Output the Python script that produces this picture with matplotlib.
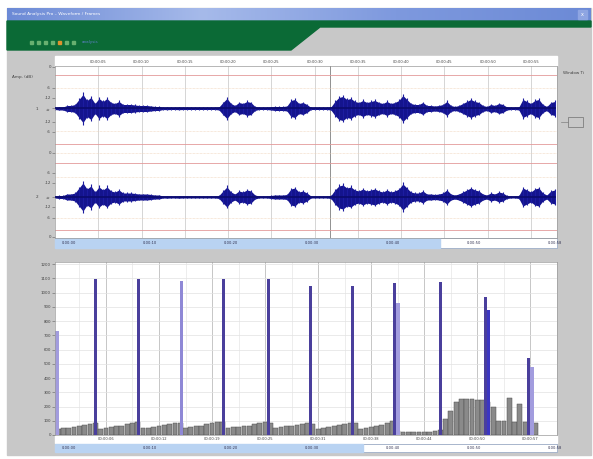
import matplotlib
matplotlib.use("Agg")
import matplotlib.pyplot as plt
import numpy as np
from matplotlib.patches import Rectangle, Polygon
from matplotlib.colors import LinearSegmentedColormap

# ---------------- data ----------------
# waveform envelope (half amplitude) sampled every wave_dt seconds
wave_dt = 0.462
wave_env = [1, 1.5, 1.5, 3, 3, 4, 9, 14, 8, 11, 5, 10, 7, 10, 6, 5, 7, 4, 4, 4,
            3.5, 3, 3, 3, 2.5, 2, 2, 1, 1.2, 1, 1, 1.2, 1, 1, 1, 1, 1, 1, 1, 1,
            1, 1.5, 6, 10, 5, 3, 6, 5, 7, 6, 2, 1, 1, 1, 1.5, 2, 2, 2, 2.5, 8,
            9, 5, 6, 4, 1, 1, 1, 1, 1, 1.5, 7, 11, 12, 9, 10, 7, 6, 8, 6, 7,
            8, 6, 5, 7, 5, 6, 8, 13, 9, 5, 4, 4, 6, 3, 3, 2.5, 3, 4, 7, 3,
            2, 3, 5, 7, 9, 7, 6, 3, 2, 4, 3, 5, 4, 1.5, 1, 1, 1.5, 9, 7, 5,
            8, 9, 4, 2, 6, 7]
wave_ticks_s = [5, 10, 15, 20, 25, 30, 35, 40, 45, 50, 55]
wave_tick_labels = ["00:00:05", "00:00:10", "00:00:15", "00:00:20", "00:00:25", "00:00:30",
                    "00:00:35", "00:00:40", "00:00:45", "00:00:50", "00:00:55"]
cursor_s = 31.8
amp_labels = ["0", "-6", "-12", "-\u221e", "-12", "-6", "0", "-6", "-12", "-\u221e", "-12", "-6", "0"]

# frame chart
frame_index = list(range(1, 92))
frame_energy = [45, 50, 50, 55, 60, 70, 80,
                85,
                45, 50, 55, 60, 65, 75, 85,
                90,
                50, 50, 55, 60, 70, 80, 85,
                85,
                50, 55, 60, 65, 75, 85, 90,
                90,
                50, 55, 55, 60, 65, 75, 85, 90,
                85,
                50, 55, 60, 65, 70, 80, 85,
                80,
                45, 50, 55, 60, 70, 80, 85,
                85,
                45, 50, 55, 60, 70, 85, 95,
                25, 20, 20, 20, 20, 20, 20, 25, 35,
                110, 170, 230, 250, 255, 250, 245, 245, 235, 200,
                95, 95, 260, 90, 215, 90, 90, 85]
spike_pos = [0.8, 8.0, 16.2, 24.2, 32.2, 40.6, 48.6, 56.4, 64.4, 73.1, 81.5, 89.7]
spike_peak = [0, 1095, 1095, 0, 1095, 1095, 1046, 1046, 1067, 1074, 969, 541]
level_pos = [0.75, 8.5, 16.7, 24.2, 32.7, 41.1, 49.1, 56.9, 64.9, 73.6, 81.9, 90.2]
spike_level = [730, 0, 0, 1085, 0, 0, 0, 0, 927, 0, 878, 477]
level_width = [0.9, 0.9, 0.9, 0.6, 0.9, 0.9, 0.9, 0.9, 0.9, 0.9, 0.8, 0.9]
spike_level_colors = ["#a29cde", "#a29cde", "#a29cde", "#8f88d6", "#a29cde", "#a29cde",
                      "#a29cde", "#a29cde", "#a29cde", "#a29cde", "#3b36c2", "#a29cde"]
frame_yticks = [0, 100, 200, 300, 400, 500, 600, 700, 800, 900, 1000, 1100, 1200]
frame_xticks = [10, 20, 30, 40, 50, 60, 70, 80, 90]
frame_xlabels = ["00:00:06", "00:00:12", "00:00:19", "00:00:25", "00:00:31",
                 "00:00:38", "00:00:44", "00:00:50", "00:00:57"]
scroll_labels = ["0:00:00", "0:00:10", "0:00:20", "0:00:30", "0:00:40", "0:00:50", "0:00:58"]

# ---------------- layout ----------------
W, H = 593, 459
fig = plt.figure(figsize=(5.93, 4.59), dpi=100)
fig.patch.set_facecolor("white")


def frac(x0, y0, x1, y1):
    return [x0 / W, 1 - y1 / H, (x1 - x0) / W, (y1 - y0) / H]


bg = fig.add_axes([0, 0, 1, 1])
bg.axis("off")
bg.add_patch(Rectangle((7, 8), 584, 447, color="#c8c8c8", zorder=0))
tcmap = LinearSegmentedColormap.from_list("t", ["#6c8ad6", "#a6baea", "#7e99de", "#6c8ad6"])
bg.imshow(np.linspace(0, 1, 256)[None, :], cmap=tcmap, extent=(7, 591, 21, 8), aspect="auto", zorder=1)
bg.add_patch(Polygon([(7, 21), (591, 21), (591, 27), (320, 27), (291, 50), (7, 50)],
                     closed=True, color="#0b6a36", zorder=2))
bg.text(12, 14.5, "Sound Analysis Pro \u2013 Waveform / Frames", color="white", fontsize=3.2,
        va="center", zorder=3)
bg.add_patch(Rectangle((578, 10), 9, 9, color="#8ea5e2", zorder=3))
bg.text(582.5, 14.5, "x", color="white", fontsize=3.5, ha="center", va="center", zorder=4)
for i, c in enumerate(["#68b070", "#68b070", "#68b070", "#68b070", "#e0922e", "#68b070", "#68b070"]):
    bg.add_patch(Rectangle((30 + 7 * i, 40.5), 3, 3, color=c, zorder=3))
bg.text(82, 42, "analysis", color="#5c7fc2", fontsize=3, va="center", zorder=3)

# upper header strip and scrollbar
bg.add_patch(Rectangle((55, 56), 502, 10, color="white", zorder=1))
bg.add_patch(Rectangle((55, 238), 502, 10, facecolor="white", edgecolor="#8fa3c2", lw=0.5, zorder=1))
bg.add_patch(Rectangle((55, 238), 385, 10, color="#b9d3f2", zorder=2))
for i, lab in enumerate(scroll_labels):
    bg.text(62 + i * 81, 243, lab, fontsize=2.6, color="#303050", va="center", zorder=3)
# lower label strip and scrollbar
bg.add_patch(Rectangle((55, 435), 502, 8, color="white", zorder=1))
bg.add_patch(Rectangle((55, 444), 502, 8, facecolor="white", edgecolor="#8fa3c2", lw=0.5, zorder=1))
bg.add_patch(Rectangle((55, 444), 308, 8, color="#b9d3f2", zorder=2))
for i, lab in enumerate(scroll_labels):
    bg.text(62 + i * 81, 448, lab, fontsize=2.6, color="#303050", va="center", zorder=3)

bg.text(12, 77, "Amp. (dB)", fontsize=3, color="#404040", va="center")
bg.text(36, 108.5, "1", fontsize=3, color="#404040", va="center")
bg.text(36, 197, "2", fontsize=3, color="#404040", va="center")
bg.text(563, 73, "Window Ti", fontsize=3, color="#404040", va="center")
bg.add_patch(Rectangle((568, 117), 15, 10, fill=False, ec="#707070", lw=0.5))
bg.plot([561, 568], [122, 122], color="#808080", lw=0.5)
bg.set_xlim(0, W)
bg.set_ylim(H, 0)

# ---------------- upper waveform ----------------
ax1 = fig.add_axes(frac(55, 66, 557, 238))
ax1.set_facecolor("white")
ax1.set_xlim(0, 58)
ax1.set_ylim(238, 66)
for s in wave_ticks_s:
    ax1.axvline(s, color="#cfcfcf", lw=0.6, zorder=1)
ax1.axvline(cursor_s, color="#909090", lw=0.7, zorder=1)
for y in [75, 144, 163, 230]:
    ax1.axhline(y, color="#e39a9a", lw=0.6, zorder=1)
for y in [88, 131, 153, 177, 218]:
    ax1.axhline(y, color="#efd2b8", lw=0.5, ls=(0, (1, 1)), zorder=1)
t = np.arange(len(wave_env)) * wave_dt
env = np.array(wave_env)
for center in (108.5, 197):
    ax1.fill_between(t, center - env, center + env, color="#14148e", lw=0, zorder=2)
    ax1.vlines(t, center - env * 1.15, center + env * 1.15, color="#1c1ca0", lw=0.8, zorder=2)
    ax1.plot(t, np.full(len(t), center), color="#0c0c70", lw=1.3, zorder=3)
ax1.set_yticks([67, 88, 98, 108.5, 122, 132, 153, 173, 183, 197, 207, 218, 237])
ax1.set_yticklabels(amp_labels, fontsize=2.8, color="#404040")
ax1.xaxis.tick_top()
ax1.set_xticks(wave_ticks_s)
ax1.set_xticklabels(wave_tick_labels, fontsize=2.6, color="#404040")
ax1.tick_params(axis="x", length=0, pad=1.5)
ax1.tick_params(axis="y", length=2, width=0.4, pad=1, color="#606060")
for sp in ax1.spines.values():
    sp.set_color("#9a9a9a")
    sp.set_linewidth(0.5)

# ---------------- lower frame chart ----------------
ax2 = fig.add_axes(frac(55, 262, 557, 435))
ax2.set_facecolor("white")
ax2.set_xlim(0.4, 91.7)
ax2.set_ylim(0, 1215)
ax2.set_xticks(frame_xticks)
ax2.set_xticks([x - 5 for x in frame_xticks] + [95], minor=True)
ax2.set_yticks(frame_yticks)
ax2.grid(which="major", axis="x", color="#bdbdbd", lw=0.6)
ax2.grid(which="minor", axis="x", color="#e6e6e6", lw=0.5)
ax2.grid(which="major", axis="y", color="#e2e2e2", lw=0.5)
ax2.set_axisbelow(True)
ax2.bar(frame_index, frame_energy, width=0.9, color="#8a8a8a", edgecolor="#4e4e4e", lw=0.35)
ax2.bar(level_pos, spike_level, width=level_width, color=spike_level_colors, lw=0)
ax2.bar(spike_pos, spike_peak, width=0.55, color="#4a3f9c", lw=0)
ax2.set_yticklabels([str(v) for v in frame_yticks], fontsize=2.8, color="#404040")
ax2.set_xticklabels(frame_xlabels, fontsize=2.6, color="#404040")
ax2.tick_params(axis="x", which="both", length=0, pad=1.5)
ax2.tick_params(axis="y", length=2, width=0.4, pad=1, color="#606060")
for sp in ax2.spines.values():
    sp.set_color("#9a9a9a")
    sp.set_linewidth(0.5)

fig.savefig("out.png", dpi=100)
